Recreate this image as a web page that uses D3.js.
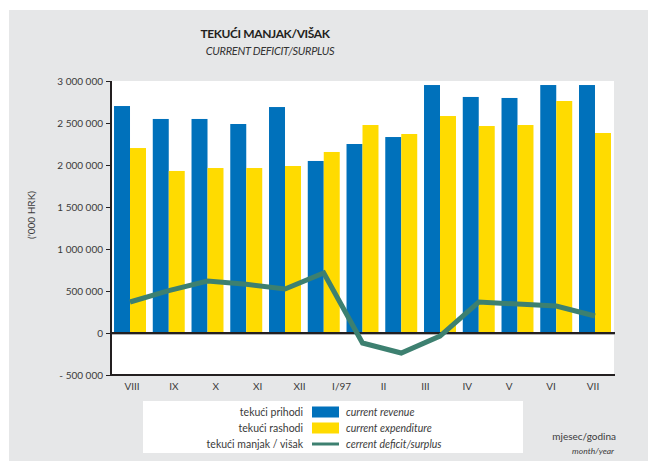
<!DOCTYPE html>
<html>
<head>
<meta charset="utf-8">
<script src="https://cdn.jsdelivr.net/npm/d3@7"></script>
<style>
  html, body { margin: 0; padding: 0; background: #fff; }
  svg { display: block; font-family: Lato, "Open Sans", sans-serif; }
</style>
</head>
<body>
<svg id="chart" width="648" height="461"></svg>
<script>
// ---- data ----
const groups = ["g1","g2","g3","g4","g5","g6","g7","g8","g9","g10","g11","g12","g13"];
const monthLabels = ["VIII","IX","X","XI","XII","I/97","II","III","IV","V","VI","VII"];
const revenue = [2702000, 2548000, 2548000, 2488000, 2690000, 2048000, 2250000, 2333000, 2952000, 2810000, 2798000, 2952000, 2952000];
const expenditure = [2202000, 1929000, 1964000, 1964000, 1988000, 2155000, 2476000, 2369000, 2583000, 2464000, 2476000, 2762000, 2381000];
const deficit = [369000, 505000, 619000, 580000, 524000, 714000, -119000, -238000, -36000, 369000, 345000, 321000, 202000];
const yTicks = [3000000, 2500000, 2000000, 1500000, 1000000, 500000, 0, -500000];
const legendItems = [
  {hr: "tekući prihodi", en: "current revenue", type: "rect", color: "#0071bb"},
  {hr: "tekući rashodi", en: "current expenditure", type: "rect", color: "#ffdb00"},
  {hr: "tekući manjak / višak", en: "cerrent deficit/surplus", type: "line", color: "#3d8070"}
];

const svg = d3.select("#chart");
const plot = {left: 111, right: 614, top: 81, bottom: 375};

// background
svg.append("rect").attr("x", 9).attr("y", 10).attr("width", 639).attr("height", 451).attr("fill", "#e6e7e8");
svg.append("rect").attr("x", plot.left).attr("y", plot.top)
  .attr("width", plot.right - plot.left).attr("height", plot.bottom - plot.top).attr("fill", "#fff");

// titles
svg.append("text").attr("x", 265).attr("y", 38).attr("text-anchor", "middle")
  .attr("font-size", 12).attr("font-weight", "bold").attr("fill", "#231f20")
  .attr("letter-spacing", -0.4).text("TEKUĆI MANJAK/VIŠAK");
svg.append("text").attr("x", 270).attr("y", 55).attr("text-anchor", "middle")
  .attr("font-size", 11).attr("font-style", "italic").attr("fill", "#333")
  .attr("letter-spacing", -0.3).text("CURRENT DEFICIT/SURPLUS");

// scales
const y = d3.scaleLinear().domain([-500000, 3000000]).range([plot.bottom, plot.top]);
const xb = d3.scaleBand().domain(groups).range([plot.left, plot.right]).paddingInner(0.175).paddingOuter(0.078);
const xl = d3.scaleBand().domain(monthLabels).range([plot.left, plot.right]);

// bars
const bw = xb.bandwidth() / 2;
svg.append("g").selectAll("rect").data(groups).join("rect")
  .attr("x", d => xb(d)).attr("width", bw)
  .attr("y", (d, i) => y(revenue[i])).attr("height", (d, i) => y(0) - y(revenue[i]))
  .attr("fill", "#0071bb");
svg.append("g").selectAll("rect").data(groups).join("rect")
  .attr("x", d => xb(d) + bw).attr("width", bw)
  .attr("y", (d, i) => y(expenditure[i])).attr("height", (d, i) => y(0) - y(expenditure[i]))
  .attr("fill", "#ffdb00");

// zero line
svg.append("line").attr("x1", plot.left).attr("x2", plot.right + 1)
  .attr("y1", y(0) + 1.5).attr("y2", y(0) + 1.5).attr("stroke", "#b0b2b4").attr("stroke-width", 1);
svg.append("line").attr("x1", plot.left).attr("x2", plot.right + 1)
  .attr("y1", y(0)).attr("y2", y(0)).attr("stroke", "#231f20").attr("stroke-width", 2);

// deficit line
const line = d3.line().x((d, i) => xb(groups[i]) + xb.bandwidth() / 2).y(d => y(d));
svg.append("path").datum(deficit).attr("d", line)
  .attr("fill", "none").attr("stroke", "#3d8070").attr("stroke-width", 5).attr("stroke-linejoin", "miter");

// y axis
const yAxis = d3.axisLeft(y).tickValues(yTicks).tickSize(5).tickPadding(3)
  .tickFormat(d => (d < 0 ? "- " : "") + d3.format(",")(Math.abs(d)).replace(/,/g, " "));
const gy = svg.append("g").attr("transform", `translate(${plot.left},0)`).call(yAxis);
gy.select(".domain").remove();
gy.selectAll(".tick line").attr("stroke", "#231f20").attr("stroke-width", 1);
gy.selectAll(".tick text").attr("font-size", 10).attr("fill", "#3a3a3a").attr("font-family", "Lato, sans-serif");
svg.append("line").attr("x1", plot.left).attr("x2", plot.left).attr("y1", plot.top).attr("y2", plot.bottom + 1)
  .attr("stroke", "#231f20").attr("stroke-width", 2);

// x axis
const xAxis = d3.axisBottom(xl).tickSize(0).tickPadding(8);
const gx = svg.append("g").attr("transform", `translate(0,${plot.bottom})`).call(xAxis);
gx.select(".domain").remove();
gx.selectAll(".tick text").attr("font-size", 10).attr("fill", "#3a3a3a").attr("font-family", "Lato, sans-serif");
svg.append("line").attr("x1", plot.left - 1).attr("x2", plot.right + 1).attr("y1", plot.bottom).attr("y2", plot.bottom)
  .attr("stroke", "#231f20").attr("stroke-width", 2);

// y label
svg.append("text").attr("transform", "translate(35,215) rotate(-90)").attr("text-anchor", "middle")
  .attr("font-size", 10).attr("fill", "#3a3a3a").text("('000 HRK)");

// legend
svg.append("rect").attr("x", 143).attr("y", 401).attr("width", 380).attr("height", 52).attr("fill", "#fff");
const lg = svg.append("g").selectAll("g").data(legendItems).join("g")
  .attr("transform", (d, i) => `translate(0,${412 + i * 16})`);
lg.append("text").attr("x", 303).attr("y", 3.7).attr("text-anchor", "end")
  .attr("font-size", 10.5).attr("fill", "#3a3a3a").text(d => d.hr);
lg.append("text").attr("x", 346).attr("y", 3.7)
  .attr("font-size", 10.5).attr("font-style", "italic").attr("fill", "#3a3a3a").text(d => d.en);
lg.filter(d => d.type === "rect").append("rect").attr("x", 312).attr("y", -5.5).attr("width", 27).attr("height", 11)
  .attr("fill", d => d.color);
lg.filter(d => d.type === "line").append("line").attr("x1", 312).attr("x2", 339).attr("y1", 0).attr("y2", 0)
  .attr("stroke", d => d.color).attr("stroke-width", 3);

// month/year
svg.append("text").attr("x", 616).attr("y", 439.5).attr("text-anchor", "end")
  .attr("font-size", 10).attr("fill", "#3a3a3a").text("mjesec/godina");
svg.append("text").attr("x", 614).attr("y", 454).attr("text-anchor", "end")
  .attr("font-size", 8.5).attr("font-style", "italic").attr("fill", "#3a3a3a").text("month/year");
</script>
</body>
</html>
